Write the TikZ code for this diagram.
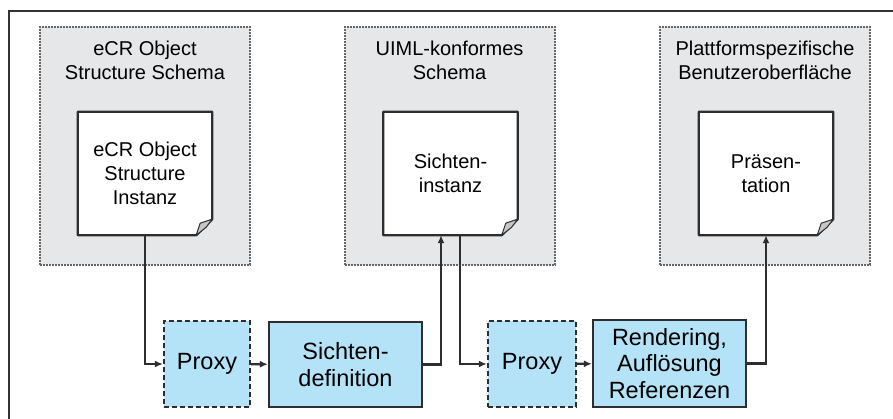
\documentclass[tikz,border=0pt]{standalone}
\usepackage{fontspec}
\setmainfont{Liberation Sans}
\usetikzlibrary{arrows.meta}

\definecolor{schemagray}{HTML}{E6E7E9}
\definecolor{procblue}{HTML}{B4E2F6}
\definecolor{linegray}{HTML}{2E2E2E}

\begin{document}
\begin{tikzpicture}[x=1pt, y=-1pt, >={Latex[length=8pt,width=7pt]},
  schema/.style={fill=schemagray, draw=gray!80!black, line width=2pt, densely dotted, minimum width=210pt, minimum height=238pt, inner sep=0pt},
  doc/.style={minimum width=134pt, minimum height=123pt, inner sep=0pt, align=center, font=\fontsize{20}{24}\selectfont},
  title/.style={align=center, font=\fontsize{20}{24}\selectfont},
  proc/.style={fill=procblue, draw=linegray, line width=2.3pt, align=center, inner sep=0pt, font=\fontsize{23.5}{26.5}\selectfont},
  proxy/.style={proc, dashed, dash pattern=on 5pt off 3pt},
  arr/.style={->, draw=linegray, line width=2.2pt}]
\useasboundingbox (0,0) rectangle (893,418);
\draw[line width=1.5pt, draw=black!80] (9,440) rectangle (910,11);
% schema boxes
\node[schema] (schemaA) at (145,146) {};
\node[schema] (schemaB) at (449.5,146) {};
\node[schema] (schemaC) at (765,146) {};
\node[title] (titleA) at (145,60) {eCR Object\\Structure Schema};
\node[title] (titleB) at (449.5,60) {UIML-konformes\\Schema};
\node[title] (titleC) at (765,60) {Plattformspezifische\\Benutzeroberfläche};
% documents with folded corner
\foreach \n/\x in {inst/145, sicht/450.5, praes/766}{
  \node[doc] (\n) at (\x,173.5) {};
  \fill[white] (\n.north west) -- (\n.north east) -- ([yshift=16pt]\n.south east) -- ([xshift=-16pt]\n.south east) -- (\n.south west) -- cycle;
  \draw[linegray, line width=2.3pt, line join=round] (\n.north west) -- (\n.north east) -- ([yshift=16pt]\n.south east) -- ([xshift=-16pt]\n.south east) -- (\n.south west) -- cycle;
  \draw[linegray, line width=1pt, fill=gray!45, line join=round] ([xshift=-16pt]\n.south east) -- ([xshift=-12pt,yshift=12pt]\n.south east) -- ([yshift=16pt]\n.south east) -- ([xshift=-6pt,yshift=8pt]\n.south east) -- cycle;
}
\node[doc] at (inst) {eCR Object\\Structure\\Instanz};
\node[doc] at (sicht) {Sichten-\\instanz};
\node[doc] at (praes) {Präsen-\\tation};
% processing steps
\node[proxy, minimum width=86pt, minimum height=86pt] (proxyA) at (207,364) {Proxy};
\node[proc, minimum width=153pt, minimum height=85pt] (sichtdef) at (345.5,364.5) {Sichten-\\definition};
\node[proxy, minimum width=88pt, minimum height=86pt] (proxyB) at (532,364) {Proxy};
\node[proc, minimum width=153pt, minimum height=87pt] (render) at (669.5,363.5) {Rendering,\\Auflösung\\Referenzen};
% connectors
\draw[arr] (inst.south) |- (proxyA.west);
\draw[arr] (proxyA) -- (sichtdef);
\draw[arr] (sichtdef.east) -| ([xshift=-9.5pt]sicht.south);
\draw[arr] ([xshift=9.5pt]sicht.south) |- (proxyB.west);
\draw[arr] (proxyB) -- (render);
\draw[arr] (render.east) -| (praes.south);
\end{tikzpicture}
\end{document}
